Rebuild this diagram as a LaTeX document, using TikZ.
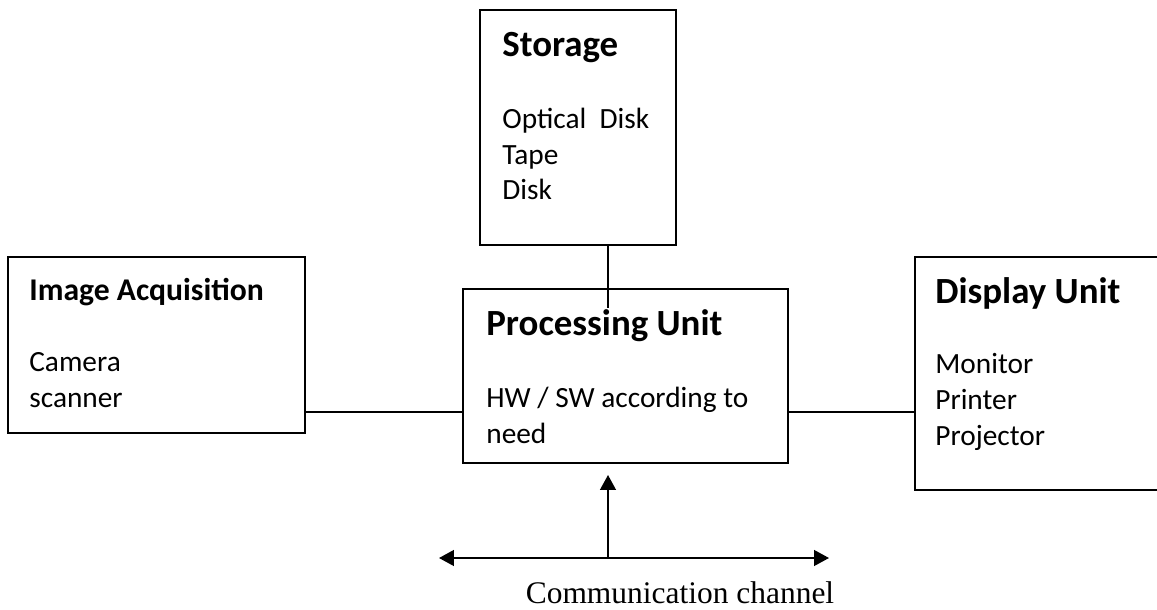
\documentclass[tikz,border=0pt]{standalone}
\usepackage{fontspec}
\setmainfont{Carlito}
\newfontfamily\chanfont{Liberation Serif}
\usetikzlibrary{arrows.meta,positioning}

\tikzset{
  unit/.style={draw, line width=1pt, inner sep=0pt, outer sep=0pt, anchor=north west},
  title/.style={anchor=base west, inner sep=0pt, font=\fontsize{21}{25}\selectfont\bfseries},
  items/.style={anchor=base west, inner sep=0pt, align=left, font=\fontsize{16.7}{20.4}\selectfont},
  link/.style={line width=1pt},
  tip/.style={{Triangle[length=8.5pt,width=9pt]}-{Triangle[length=8.5pt,width=9pt]}},
}

\begin{document}
\begin{tikzpicture}[x=0.2mm,y=-0.2mm]
        \useasboundingbox (0,0) rectangle (1157,610);
        \node[unit,minimum width=39.2mm,minimum height=47mm] (storage) at (480,10) {};
        \node[unit,minimum width=59.4mm,minimum height=35.2mm] (acq) at (8,257) {};
        \node[unit,minimum width=65mm,minimum height=34.8mm] (proc) at (463,289) {};
        \node[unit,minimum width=49mm,minimum height=46.6mm] (disp) at (915,257) {};

        \node[title] (storagetitle) at (502,57) {Storage};
        \node[items] (storageitems) at (502,200) {Optical\ \ Disk\\Tape\\Disk};
        \node[title,font=\fontsize{18}{22}\selectfont\bfseries] (acqtitle) at (29,300) {Image Acquisition};
        \node[items] (acqitems) at (29,407) {Camera\\scanner};
        \node[title] (proctitle) at (486,335) {Processing Unit};
        \node[items] (procitems) at (486,443) {HW / SW according to\\need};
        \node[title] (disptitle) at (935,303) {Display Unit};
        \node[items] (dispitems) at (935,445) {Monitor\\Printer\\Projector};

        \coordinate (mid) at (0,412);
        \coordinate (stem) at (608,308);
        \coordinate (top) at (608,475);
        \coordinate (chan) at (608,558);
        \coordinate (chanL) at (439,558);
        \coordinate (chanR) at (829,558);

        \draw[link] (acq.east |- mid) -- (proc.west |- mid);
        \draw[link] (proc.east |- mid) -- (disp.west |- mid);
        \draw[link] (storage.south -| stem) -- (stem);
        \draw[link,-{Triangle[length=8.5pt,width=9pt]}] (chan) -- (top);
        \draw[link,tip] (chanL) -- (chanR);
        \node[anchor=base,inner sep=0pt,font=\chanfont\fontsize{17.9}{21}\selectfont] (chanlabel) at (680,603) {Communication channel};
    \end{tikzpicture}
\end{document}
